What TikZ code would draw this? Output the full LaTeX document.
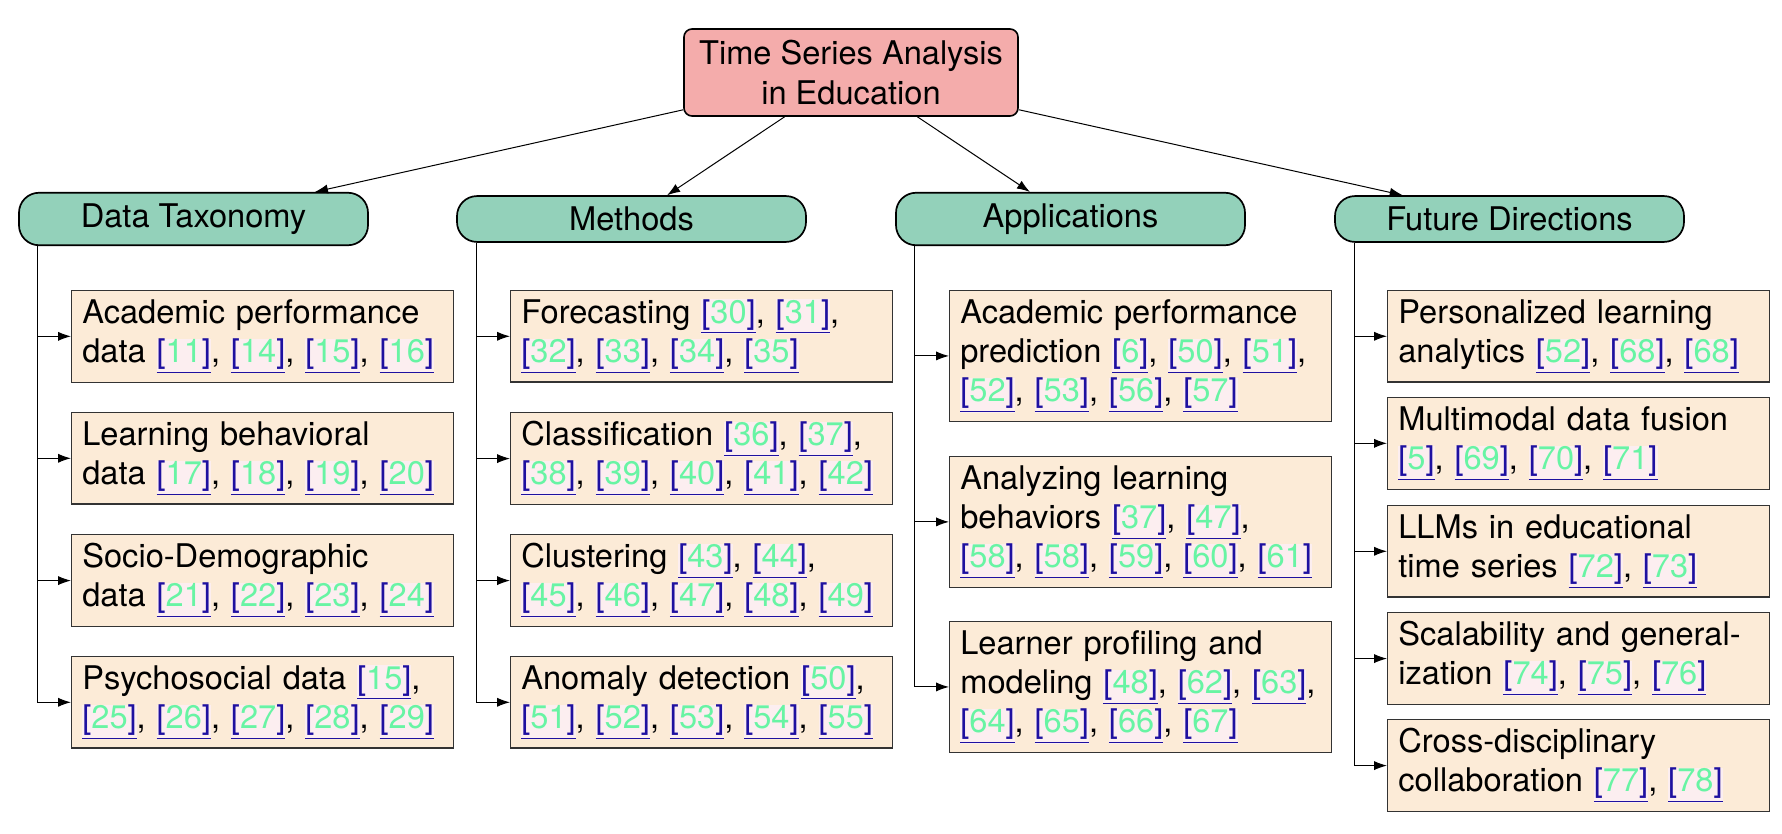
\documentclass[tikz,border=0pt]{standalone}
\usepackage{fontspec}
\setmainfont{TeX Gyre Heros}
\usetikzlibrary{arrows.meta}
\definecolor{rootfill}{HTML}{F4ACAB}
\definecolor{catfill}{HTML}{93D1BA}
\definecolor{leaffill}{HTML}{FCEBD7}
\definecolor{citegreen}{HTML}{68F4A4}
\definecolor{citeblue}{HTML}{1E10A0}
\definecolor{citebg}{HTML}{FCEEF0}
\newcommand\cit[1]{{\setlength{\fboxsep}{0pt}\colorbox{citebg}{\color{citeblue}\underline{[\textcolor{citegreen}{#1}]}}}}
\tikzset{
  basefont/.style={font=\fontsize{16.3}{19.6}\selectfont},
  rootbox/.style={basefont, draw, line width=0.8pt, fill=rootfill, rounded corners=4pt,
    align=center, minimum width=167pt, minimum height=43.5pt, inner sep=5.4pt},
  catbox/.style={basefont, draw, line width=0.85pt, fill=catfill, rounded corners=10pt,
    minimum width=174.5pt, inner sep=5.4pt},
  leafbox/.style={basefont, draw=black!80, line width=0.55pt, fill=leaffill, align=left,
    anchor=north west, text width=180.2pt, inner xsep=5.4pt, inner ysep=4.4pt},
  conn/.style={line width=0.5pt, -{Latex[length=6.5pt,width=4.6pt]}},
}
\begin{document}
\begin{tikzpicture}[x=0.5pt,y=-0.5pt]
\useasboundingbox (0,0) rectangle (1782,834);
% root
\node[rootbox] (root) at (851,72.5) {Time Series Analysis\\in Education};
% categories
\node[catbox] (dt) at (193.5,219) {Data Taxonomy};
\node[catbox] (me) at (631.5,219) {Methods};
\node[catbox] (ap) at (1070.5,219) {Applications};
\node[catbox] (fd) at (1509.5,219) {Future Directions};
\foreach \c in {dt,me,ap,fd} \draw[conn] (root) -- (\c);
% Data Taxonomy leaves
\node[leafbox] (dt1) at (71,290) {Academic performance\\data \cit{11}, \cit{14}, \cit{15}, \cit{16}};
\node[leafbox] (dt2) at (71,412) {Learning behavioral\\data \cit{17}, \cit{18}, \cit{19}, \cit{20}};
\node[leafbox] (dt3) at (71,534) {Socio-Demographic\\data \cit{21}, \cit{22}, \cit{23}, \cit{24}};
\node[leafbox] (dt4) at (71,656) {Psychosocial data \cit{15},\\\cit{25}, \cit{26}, \cit{27}, \cit{28}, \cit{29}};
% Methods leaves
\node[leafbox] (me1) at (510,290) {Forecasting \cit{30}, \cit{31},\\\cit{32}, \cit{33}, \cit{34}, \cit{35}};
\node[leafbox] (me2) at (510,412) {Classification \cit{36}, \cit{37},\\\cit{38}, \cit{39}, \cit{40}, \cit{41}, \cit{42}};
\node[leafbox] (me3) at (510,534) {Clustering \cit{43}, \cit{44},\\\cit{45}, \cit{46}, \cit{47}, \cit{48}, \cit{49}};
\node[leafbox] (me4) at (510,656) {Anomaly detection \cit{50},\\\cit{51}, \cit{52}, \cit{53}, \cit{54}, \cit{55}};
% Applications leaves
\node[leafbox] (ap1) at (949,290) {Academic performance\\prediction \cit{6}, \cit{50}, \cit{51},\\\cit{52}, \cit{53}, \cit{56}, \cit{57}};
\node[leafbox] (ap2) at (949,456) {Analyzing learning\\behaviors \cit{37}, \cit{47},\\\cit{58}, \cit{58}, \cit{59}, \cit{60}, \cit{61}};
\node[leafbox] (ap3) at (949,621) {Learner profiling and\\modeling \cit{48}, \cit{62}, \cit{63},\\\cit{64}, \cit{65}, \cit{66}, \cit{67}};
% Future Directions leaves
\node[leafbox] (fd1) at (1387,290) {Personalized learning\\analytics \cit{52}, \cit{68}, \cit{68}};
\node[leafbox] (fd2) at (1387,397) {Multimodal data fusion\\\cit{5}, \cit{69}, \cit{70}, \cit{71}};
\node[leafbox] (fd3) at (1387,505) {LLMs in educational\\time series \cit{72}, \cit{73}};
\node[leafbox] (fd4) at (1387,612) {Scalability and general-\\ization \cit{74}, \cit{75}, \cit{76}};
\node[leafbox] (fd5) at (1387,719) {Cross-disciplinary\\collaboration \cit{77}, \cit{78}};
% branch connectors
\foreach \l in {dt1,dt2,dt3,dt4} \draw[conn] ([xshift=9.5pt]dt.south west) |- (\l.west);
\foreach \l in {me1,me2,me3,me4} \draw[conn] ([xshift=10pt]me.south west) |- (\l.west);
\foreach \l in {ap1,ap2,ap3} \draw[conn] ([xshift=9.5pt]ap.south west) |- (\l.west);
\foreach \l in {fd1,fd2,fd3,fd4,fd5} \draw[conn] ([xshift=10pt]fd.south west) |- (\l.west);
\end{tikzpicture}
\end{document}
